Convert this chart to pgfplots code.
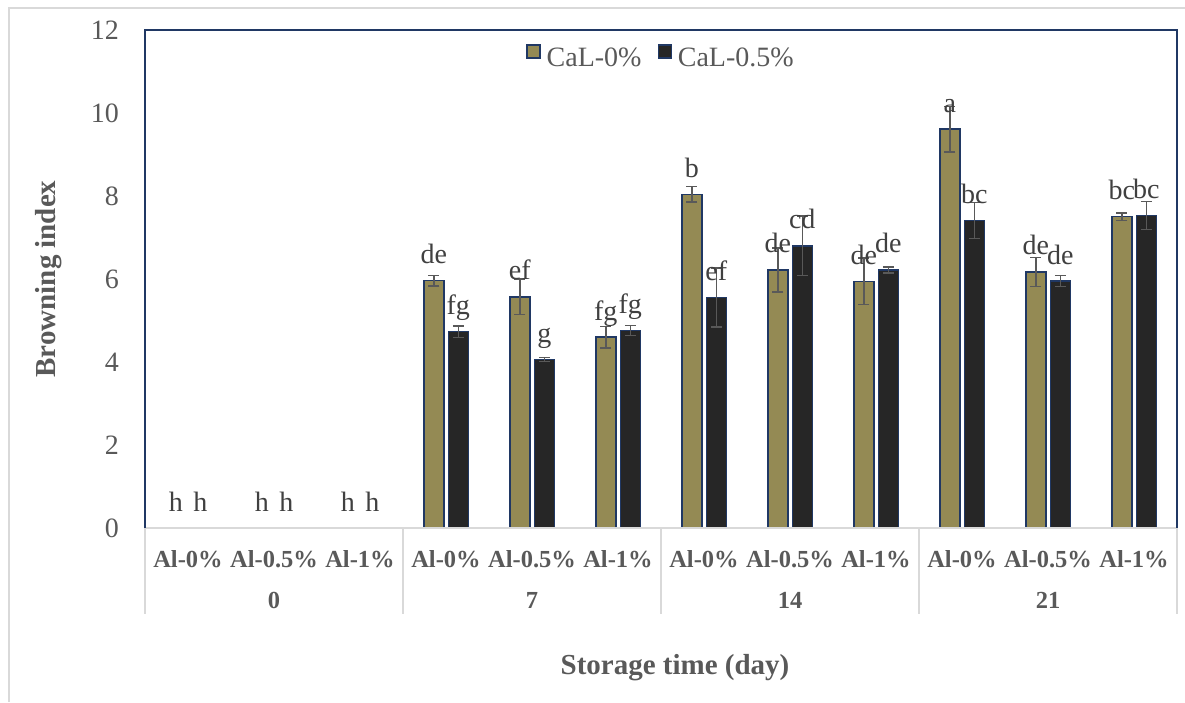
\documentclass[border=0pt]{standalone}
\usepackage{fontspec}
\setmainfont{Liberation Serif}
\usepackage{pgfplots}
\usepackage{pgfplotstable}
\pgfplotsset{compat=1.18}
\definecolor{tanc}{HTML}{948A54}
\definecolor{blk}{HTML}{262626}
\definecolor{navy}{HTML}{203864}
\definecolor{txt}{HTML}{595959}
\definecolor{labc}{HTML}{404040}
\definecolor{sep}{HTML}{D9D9D9}

\pgfplotstableread{
x y e lab
3 5.96 0.125 de
4 5.57 0.43 ef
5 4.60 0.26 fg
6 8.04 0.19 b
7 6.22 0.53 de
8 5.94 0.56 de
9 9.61 0.55 a
10 6.17 0.35 de
11 7.50 0.09 bc
}\tanA

\pgfplotstableread{
x y e lab
3 4.73 0.14 fg
4 4.06 0.05 g
5 4.76 0.12 fg
6 5.55 0.71 ef
7 6.80 0.72 cd
8 6.22 0.07 de
9 7.41 0.43 bc
10 5.95 0.13 de
11 7.53 0.34 bc
}\blkA

\pgfplotstableread{
x y lab
0 0 h
1 0 h
2 0 h
}\zeroA

\begin{document}
\begin{tikzpicture}
\path[use as bounding box] (0,0) rectangle (1185pt,702pt);
\draw[sep, line width=1.2pt] (9pt,0pt) -- (9pt,694pt) -- (1185pt,694pt);
\begin{axis}[
 at={(145pt,174pt)}, anchor=south west,
 scale only axis, width=1032pt, height=498pt,
 xmin=-0.5, xmax=11.5, ymin=0, ymax=12,
 ytick={0,2,...,12},
 xtick={0,...,11},
 xticklabels={Al-0\%,Al-0.5\%,Al-1\%,Al-0\%,Al-0.5\%,Al-1\%,Al-0\%,Al-0.5\%,Al-1\%,Al-0\%,Al-0.5\%,Al-1\%},
 extra x ticks={1,4,7,10},
 extra x tick labels={0,7,14,21},
 extra x tick style={xticklabel style={yshift=-41pt}},
 major tick length=0pt,
 axis line style={draw=none},
 tick style={draw=none},
 /pgf/number format/assume math mode=true,
 yticklabel style={font=\fontsize{28}{32}\selectfont, text=txt, inner sep=0pt, anchor=east, xshift=-26pt},
 xticklabel style={font=\fontsize{24.5}{28}\selectfont\bfseries, text=txt, inner sep=0pt, anchor=base, yshift=-39pt},
 ybar, bar width=20pt,
 clip=false,
 legend style={at={(0.5,1)}, anchor=north, yshift=-6pt, draw=none, fill=none, font=\fontsize{28}{32}\selectfont, text=txt, legend columns=2, /tikz/every even column/.append style={column sep=14pt}},
 legend image code/.code={\draw[#1,line width=1.2pt] (0pt,0pt) rectangle (13pt,13pt); \path (17pt,19pt);},
 nodes near coords, point meta=explicit symbolic,
 nodes near coords style={anchor=base, yshift=17pt, inner sep=0pt, font=\fontsize{28}{32}\selectfont, text=labc},
 error bars/error bar style={line width=1.5pt, color=txt},
 error bars/error mark options={rotate=90, mark size=5.5pt, line width=1.5pt, color=txt},
]
\addplot[fill=tanc, draw=navy, line width=1.5pt, bar shift=-12.25pt,
  error bars/.cd, y dir=both, y explicit]
  table[x=x, y=y, y error=e, meta=lab]{\tanA};
\addlegendentry{CaL-0\%}
\addplot[fill=blk, draw=navy, line width=1.5pt, bar shift=12.25pt,
  error bars/.cd, y dir=both, y explicit]
  table[x=x, y=y, y error=e, meta=lab]{\blkA};
\addlegendentry{CaL-0.5\%}
\addplot[draw=none, fill=none, bar shift=-12.25pt, forget plot] table[x=x, y=y, meta=lab]{\zeroA};
\addplot[draw=none, fill=none, bar shift=12.25pt, forget plot] table[x=x, y=y, meta=lab]{\zeroA};
\draw[sep, line width=1.5pt] (rel axis cs:0,0) -- (rel axis cs:1,0);
\draw[navy, line width=1.5pt] (rel axis cs:0,0) -- (rel axis cs:0,1) -- (rel axis cs:1,1) -- (rel axis cs:1,0);
\draw[sep, line width=1.2pt] (axis cs:-0.5,0) -- ++(0pt,-86pt);
\draw[sep, line width=1.2pt] (axis cs:2.5,0) -- ++(0pt,-86pt);
\draw[sep, line width=1.2pt] (axis cs:5.5,0) -- ++(0pt,-86pt);
\draw[sep, line width=1.2pt] (axis cs:8.5,0) -- ++(0pt,-86pt);
\draw[sep, line width=1.2pt] (axis cs:11.5,0) -- ++(0pt,-86pt);
\end{axis}
\node[rotate=90, font=\fontsize{29}{33}\selectfont\bfseries, text=txt] at (49pt,423pt) {Browning index};
\node[font=\fontsize{29}{33}\selectfont\bfseries, text=txt] at (675pt,34pt) {Storage time (day)};
\end{tikzpicture}
\end{document}
